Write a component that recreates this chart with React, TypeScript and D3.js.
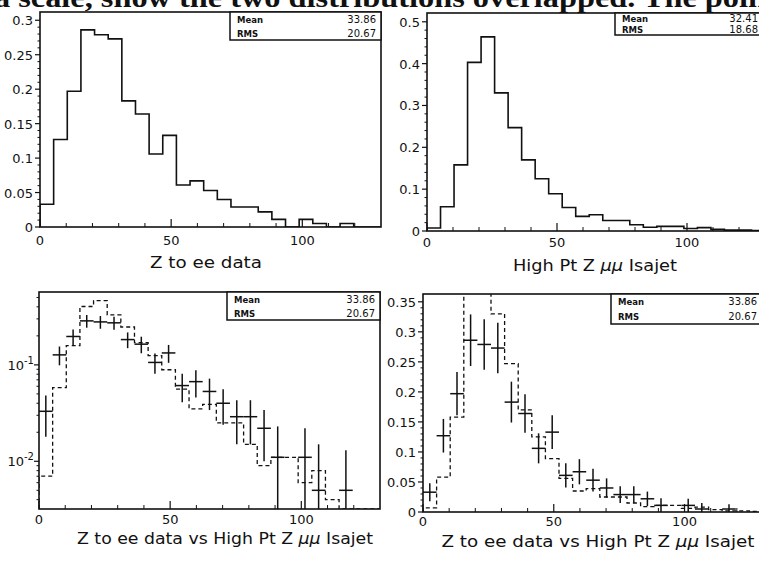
import React from 'react'
import * as d3 from 'd3'

// bin edges of all four histograms (25 bins over 0..130)
const binEdges = [0, 5.2, 10.4, 15.6, 20.8, 26, 31.2, 36.4, 41.6, 46.8, 52, 57.2, 62.4, 67.6, 72.8, 78, 83.2, 88.4, 93.6, 98.8, 104, 109.2, 114.4, 119.6, 124.8, 130]

// Z -> ee data (normalised) and its errors
const zeeData = [0.033, 0.127, 0.197, 0.286, 0.279, 0.273, 0.183, 0.164, 0.106, 0.133, 0.061, 0.067, 0.053, 0.040, 0.029, 0.029, 0.022, 0.011, 0, 0.011, 0.005, 0, 0.005, 0, 0]
const zeeErr = [0.015, 0.028, 0.036, 0.043, 0.042, 0.042, 0.034, 0.032, 0.025, 0.028, 0.020, 0.021, 0.019, 0.016, 0.014, 0.014, 0.012, 0.012, 0, 0.011, 0.010, 0, 0.008, 0, 0]

// High Pt Z mumu Isajet (normalised)
const isajetData = [0.007, 0.058, 0.158, 0.403, 0.464, 0.330, 0.247, 0.170, 0.125, 0.089, 0.056, 0.035, 0.039, 0.025, 0.025, 0.015, 0.009, 0.011, 0.011, 0.006, 0.008, 0.004, 0.002, 0.002, 0.001]

const statNames = ['Mean', 'RMS']
const zeeStats = ['33.86', '20.67']
const isajetStats = ['32.41', '18.68']

const xTicks = [0, 50, 100]
const xMinor = [10, 20, 30, 40, 60, 70, 80, 90, 110, 120]

const yTicksA = [0, 0.05, 0.1, 0.15, 0.2, 0.25, 0.3]
const yLabelsA = ['0', '0.05', '0.1', '0.15', '0.2', '0.25', '0.3']
const yTicksB = [0, 0.1, 0.2, 0.3, 0.4, 0.5]
const yLabelsB = ['0', '0.1', '0.2', '0.3', '0.4', '0.5']
const yTicksLog = [0.01, 0.1]
const yLabelsLog = ['-2', '-1']
const yMinorLog = [0.004, 0.005, 0.006, 0.007, 0.008, 0.009, 0.02, 0.03, 0.04, 0.05, 0.06, 0.07, 0.08, 0.09, 0.2, 0.3, 0.4, 0.5]
const yTicksD = [0, 0.05, 0.1, 0.15, 0.2, 0.25, 0.3, 0.35]
const yLabelsD = ['0', '0.05', '0.1', '0.15', '0.2', '0.25', '0.3', '0.35']

const INK = '#111'
const SANS = 'DejaVu Sans, Verdana, sans-serif'

type Frame = { l: number; t: number; r: number; b: number }

function histPath(values: number[], x: any, y: any, floor: number) {
  const v = (d: number) => y(Math.max(d, floor))
  const pts: [number, number][] = [[x(binEdges[0]), v(0)]]
  values.forEach((d, i) => {
    pts.push([x(binEdges[i]), v(d)])
    pts.push([x(binEdges[i + 1]), v(d)])
  })
  pts.push([x(binEdges[binEdges.length - 1]), v(0)])
  return d3.line()(pts) || ''
}

function Panel({ id, frame, log, yDomain, yTicks, yLabels, yMinor, solid, dashed, crosses, stats, statsBox, label, labelBox, tickGap }: any) {
  const f: Frame = frame
  const x = d3.scaleLinear().domain([0, 130]).range([f.l, f.r])
  const y = log
    ? d3.scaleLog().domain(yDomain).range([f.b, f.t])
    : d3.scaleLinear().domain(yDomain).range([f.b, f.t])
  const floor = log ? yDomain[0] : 0
  const yc = (d: number) => y(Math.min(Math.max(d, floor), yDomain[1]))

  return (
    <g>
      <defs>
        <clipPath id={id}>
          <rect x={f.l} y={f.t} width={f.r - f.l} height={f.b - f.t} />
        </clipPath>
      </defs>

      <g clipPath={`url(#${id})`} fill="none" stroke={INK}>
        {dashed && (
          <path d={histPath(dashed, x, y, floor)} strokeWidth={1.3} strokeDasharray="4,3" />
        )}
        {solid && <path d={histPath(solid, x, y, floor)} strokeWidth={1.6} />}
        {crosses &&
          zeeData.map((d, i) =>
            d > 0 ? (
              <g key={i} strokeWidth={1.5}>
                <line x1={x(binEdges[i])} x2={x(binEdges[i + 1])} y1={y(d)} y2={y(d)} />
                <line
                  x1={x((binEdges[i] + binEdges[i + 1]) / 2)}
                  x2={x((binEdges[i] + binEdges[i + 1]) / 2)}
                  y1={yc(d - zeeErr[i])}
                  y2={yc(d + zeeErr[i])}
                />
              </g>
            ) : null
          )}
      </g>

      {/* frame */}
      <rect x={f.l} y={f.t} width={f.r - f.l} height={f.b - f.t} fill="none" stroke={INK} strokeWidth={1.6} />

      {/* x ticks (inside, upward) */}
      {xTicks.map(t => (
        <g key={'xt' + t}>
          <line x1={x(t)} x2={x(t)} y1={f.b} y2={f.b - 8} stroke={INK} strokeWidth={1.2} />
          <text x={x(t)} y={f.b + tickGap} textAnchor="middle" fontFamily={SANS} fontSize={13} fill={INK}>{t}</text>
        </g>
      ))}
      {xMinor.map(t => (
        <line key={'xm' + t} x1={x(t)} x2={x(t)} y1={f.b} y2={f.b - 4} stroke={INK} strokeWidth={1} />
      ))}

      {/* y ticks (outside, left) */}
      {yTicks.map((t: number, i: number) => (
        <g key={'yt' + t}>
          <line x1={f.l - 5} x2={f.l} y1={y(t)} y2={y(t)} stroke={INK} strokeWidth={1.2} />
          {log ? (
            <text x={f.l - 5} y={y(t) + 5} textAnchor="end" fontFamily={SANS} fontSize={13} fill={INK}>
              10<tspan dy={-6} fontSize={10}>{yLabels[i]}</tspan>
            </text>
          ) : (
            <text x={f.l - 7} y={y(t) + 5} textAnchor="end" fontFamily={SANS} fontSize={13} fill={INK}>
              {yLabels[i]}
            </text>
          )}
        </g>
      ))}
      {yMinor.map((t: number, i: number) => (
        <line key={'ym' + i} x1={f.l - 2.5} x2={f.l} y1={y(t)} y2={y(t)} stroke={INK} strokeWidth={1} />
      ))}

      {/* statistics box */}
      <rect x={statsBox.l} y={statsBox.t} width={statsBox.r - statsBox.l} height={statsBox.b - statsBox.t} fill="#fff" stroke={INK} strokeWidth={1.5} />
      {statNames.map((s, i) => {
        const h = (statsBox.b - statsBox.t) / 2
        const by = statsBox.t + h * i + h / 2 + 3.5
        return (
          <g key={s} fontFamily={SANS} fill={INK}>
            <text x={statsBox.l + 7} y={by} fontSize={8.5} fontWeight="bold">{s}</text>
            <text x={statsBox.vx} y={by} fontSize={10} textAnchor="end">{stats[i]}</text>
          </g>
        )
      })}

      {/* axis title */}
      <text
        x={labelBox.cx}
        y={labelBox.y}
        textAnchor="middle"
        fontFamily={SANS}
        fontSize={15}
        fill={INK}
        textLength={labelBox.w}
        lengthAdjust="spacingAndGlyphs"
      >
        {label}
      </text>
    </g>
  )
}

const minorA = d3.range(0.01, 0.31, 0.01).filter(v => Math.abs(v / 0.05 - Math.round(v / 0.05)) > 1e-6)
const minorB = d3.range(0.02, 0.52, 0.02).filter(v => Math.abs(v / 0.1 - Math.round(v / 0.1)) > 1e-6)
const minorD = d3.range(0.01, 0.36, 0.01).filter(v => Math.abs(v / 0.05 - Math.round(v / 0.05)) > 1e-6)

const mumuLabel = (prefix: string) => (
  <>
    {prefix}High Pt Z <tspan fontStyle="italic">μμ</tspan> Isajet
  </>
)

export default function App() {
  return (
    <div style={{ position: 'absolute', left: 0, top: 0 }}>
      <svg width={759} height={561} style={{ display: 'block', background: '#fff' }}>
        <text
          x={-6}
          y={7}
          fontFamily="Liberation Serif, Times New Roman, serif"
          fontSize={28}
          fontWeight="bold"
          fill={INK}
          textLength={772}
          lengthAdjust="spacingAndGlyphs"
        >
          a scale, show the two distributions overlapped.  The poin
        </text>

        <Panel
          id="p1"
          frame={{ l: 40, t: 12, r: 381, b: 227 }}
          yDomain={[0, 0.312]}
          yTicks={yTicksA}
          yLabels={yLabelsA}
          yMinor={minorA}
          solid={zeeData}
          stats={zeeStats}
          statsBox={{ l: 230, t: 12, r: 381, b: 40, vx: 376 }}
          label="Z to ee data"
          labelBox={{ cx: 206, y: 268, w: 112 }}
          tickGap={18}
        />
        <Panel
          id="p2"
          frame={{ l: 427, t: 13, r: 765, b: 231 }}
          yDomain={[0, 0.521]}
          yTicks={yTicksB}
          yLabels={yLabelsB}
          yMinor={minorB}
          solid={isajetData}
          stats={isajetStats}
          statsBox={{ l: 615, t: 13, r: 765, b: 35, vx: 758 }}
          label={mumuLabel('')}
          labelBox={{ cx: 595, y: 271, w: 164 }}
          tickGap={16}
        />
        <Panel
          id="p3"
          frame={{ l: 39, t: 292, r: 380, b: 509 }}
          log
          yDomain={[0.0032, 0.57]}
          yTicks={yTicksLog}
          yLabels={yLabelsLog}
          yMinor={yMinorLog}
          dashed={isajetData}
          crosses
          stats={zeeStats}
          statsBox={{ l: 227, t: 292, r: 380, b: 320, vx: 375 }}
          label={mumuLabel('Z to ee data vs ')}
          labelBox={{ cx: 225, y: 544, w: 296 }}
          tickGap={15}
        />
        <Panel
          id="p4"
          frame={{ l: 423, t: 294, r: 763, b: 512 }}
          yDomain={[0, 0.363]}
          yTicks={yTicksD}
          yLabels={yLabelsD}
          yMinor={minorD}
          dashed={isajetData}
          crosses
          stats={zeeStats}
          statsBox={{ l: 611, t: 294, r: 763, b: 324, vx: 757 }}
          label={mumuLabel('Z to ee data vs ')}
          labelBox={{ cx: 598, y: 547, w: 313 }}
          tickGap={14}
        />
      </svg>
    </div>
  )
}
